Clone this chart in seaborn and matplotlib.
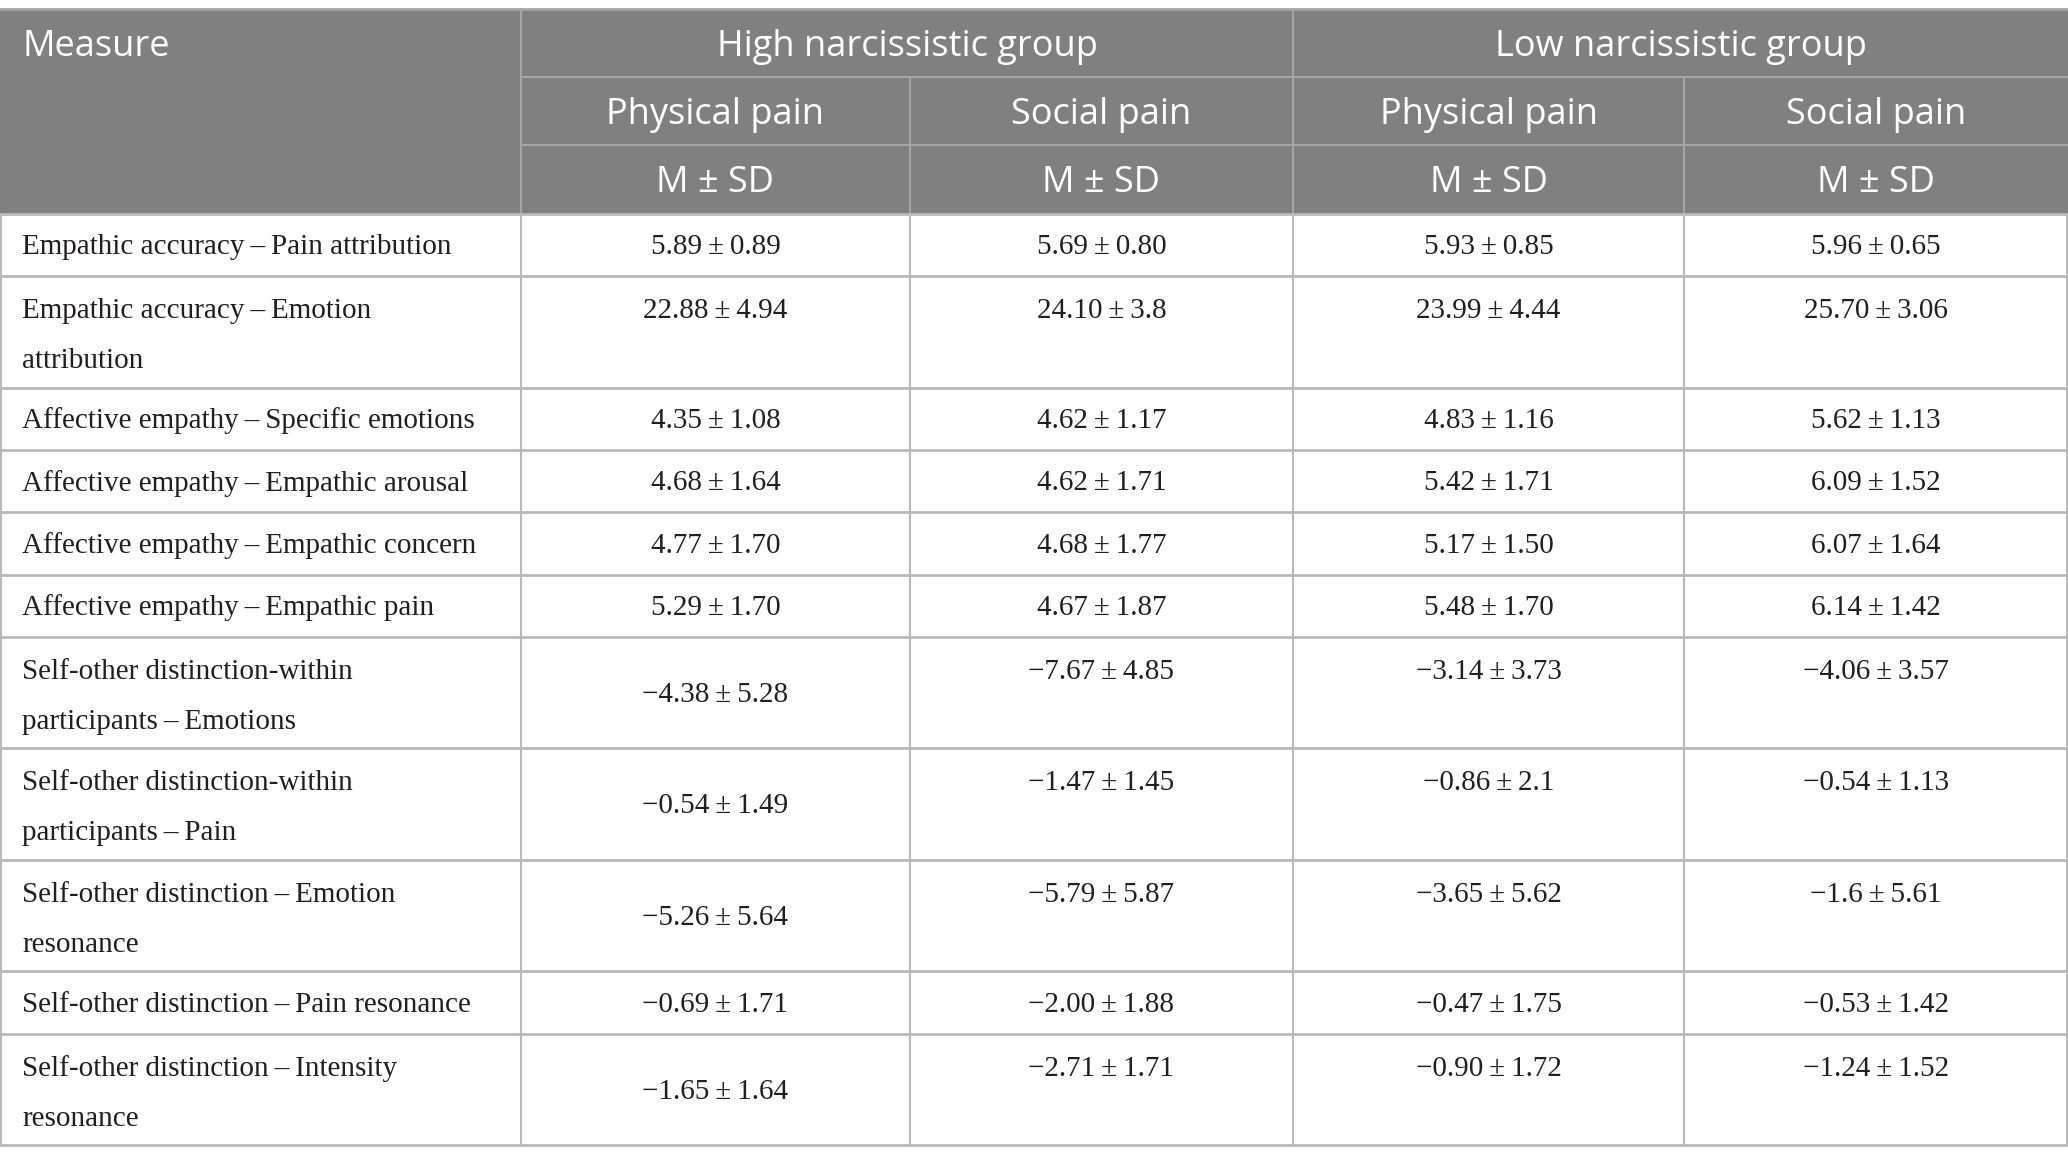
import matplotlib
matplotlib.use("Agg")
import matplotlib.pyplot as plt
import seaborn as sns

# Table content
measures = [
    "Empathic accuracy\u2009\u2013\u2009Pain attribution",
    "Empathic accuracy\u2009\u2013\u2009Emotion\nattribution",
    "Affective empathy\u2009\u2013\u2009Specific emotions",
    "Affective empathy\u2009\u2013\u2009Empathic arousal",
    "Affective empathy\u2009\u2013\u2009Empathic concern",
    "Affective empathy\u2009\u2013\u2009Empathic pain",
    "Self-other distinction-within\nparticipants\u2009\u2013\u2009Emotions",
    "Self-other distinction-within\nparticipants\u2009\u2013\u2009Pain",
    "Self-other distinction\u2009\u2013\u2009Emotion\nresonance",
    "Self-other distinction\u2009\u2013\u2009Pain resonance",
    "Self-other distinction\u2009\u2013\u2009Intensity\nresonance",
]
groups = ["High narcissistic group", "Low narcissistic group"]
conditions = ["Physical pain", "Social pain"]

hi_phys_m = ["5.89", "22.88", "4.35", "4.68", "4.77", "5.29", "\u22124.38", "\u22120.54", "\u22125.26", "\u22120.69", "\u22121.65"]
hi_phys_sd = ["0.89", "4.94", "1.08", "1.64", "1.70", "1.70", "5.28", "1.49", "5.64", "1.71", "1.64"]
hi_soc_m = ["5.69", "24.10", "4.62", "4.62", "4.68", "4.67", "\u22127.67", "\u22121.47", "\u22125.79", "\u22122.00", "\u22122.71"]
hi_soc_sd = ["0.80", "3.8", "1.17", "1.71", "1.77", "1.87", "4.85", "1.45", "5.87", "1.88", "1.71"]
lo_phys_m = ["5.93", "23.99", "4.83", "5.42", "5.17", "5.48", "\u22123.14", "\u22120.86", "\u22123.65", "\u22120.47", "\u22120.90"]
lo_phys_sd = ["0.85", "4.44", "1.16", "1.71", "1.50", "1.70", "3.73", "2.1", "5.62", "1.75", "1.72"]
lo_soc_m = ["5.96", "25.70", "5.62", "6.09", "6.07", "6.14", "\u22124.06", "\u22120.54", "\u22121.6", "\u22120.53", "\u22121.24"]
lo_soc_sd = ["0.65", "3.06", "1.13", "1.52", "1.64", "1.42", "3.57", "1.13", "5.61", "1.42", "1.52"]

columns = [(hi_phys_m, hi_phys_sd), (hi_soc_m, hi_soc_sd),
           (lo_phys_m, lo_phys_sd), (lo_soc_m, lo_soc_sd)]

sns.set_theme(style="white")
plt.rcParams['font.family'] = ['DejaVu Sans']

W, H = 2068, 1163
fig = plt.figure(figsize=(W / 100, H / 100), dpi=100)
ax = fig.add_axes([0, 0, 1, 1])
ax.set_xlim(0, W)
ax.set_ylim(H, 0)
ax.axis('off')

header_bg = '#808080'
header_line = '#a6a6a6'
body_line = '#b9b9b9'
text_col = '#231f20'
head_font = ['Open Sans', 'DejaVu Sans']
body_font = ['Liberation Serif', 'DejaVu Serif']

col_x = [0, 521, 910, 1293, 1684, W]
head_y = [9, 77, 145, 214]
single_h, double_h = 62.3, 111.5

# header block
ax.add_patch(plt.Rectangle((0, head_y[0]), W, head_y[3] - head_y[0],
                           facecolor=header_bg, edgecolor='none', zorder=0))
ax.plot([0, W], [head_y[0], head_y[0]], color=header_line, lw=2)
for y in head_y[1:3]:
    ax.plot([col_x[1], W], [y, y], color=header_line, lw=1.5)
for x in (col_x[1], col_x[3]):
    ax.plot([x, x], [head_y[0], head_y[3]], color=header_line, lw=1.5)
for x in (col_x[2], col_x[4]):
    ax.plot([x, x], [head_y[1], head_y[3]], color=header_line, lw=1.5)

hs = 26
hoff = 4
ax.text(22, (head_y[0] + head_y[1]) / 2 + hoff, "Measure", color='white', fontsize=hs,
        family=head_font, ha='left', va='center')
for g, name in enumerate(groups):
    xc = (col_x[1 + 2 * g] + col_x[3 + 2 * g]) / 2
    ax.text(xc, (head_y[0] + head_y[1]) / 2 + hoff, name, color='white', fontsize=hs,
            family=head_font, ha='center', va='center')
for c in range(4):
    xc = (col_x[c + 1] + col_x[c + 2]) / 2
    ax.text(xc, (head_y[1] + head_y[2]) / 2 + hoff, conditions[c % 2], color='white',
            fontsize=hs, family=head_font, ha='center', va='center')
    ax.text(xc, (head_y[2] + head_y[3]) / 2 + hoff, "M \u00b1 SD", color='white',
            fontsize=hs, family=head_font, ha='center', va='center')

# body rows
bs = 21
boff = 2
y = head_y[3]
ax.plot([0, W], [y, y], color=body_line, lw=2)
for i, label in enumerate(measures):
    two = '\n' in label
    h = double_h if two else single_h
    if two:
        first, second = label.split('\n')
        ax.text(22, y + 33 + boff, first, fontsize=bs, family=body_font, color=text_col,
                ha='left', va='center')
        ax.text(22, y + 83 + boff, second, fontsize=bs, family=body_font, color=text_col,
                ha='left', va='center')
    else:
        ax.text(22, y + h / 2 + boff, label, fontsize=bs, family=body_font, color=text_col,
                ha='left', va='center')
    for c, (means, sds) in enumerate(columns):
        xc = (col_x[c + 1] + col_x[c + 2]) / 2
        # first value column is centred in two-line rows except the accuracy row
        if two and c == 0 and i >= 6:
            yy = y + h / 2
        elif two:
            yy = y + 33
        else:
            yy = y + h / 2
        ax.text(xc, yy + boff, f"{means[i]}\u2009\u00b1\u2009{sds[i]}", fontsize=bs,
                family=body_font, color=text_col, ha='center', va='center')
    y += h
    ax.plot([0, W], [y, y], color=body_line, lw=2)

for x in col_x[1:5]:
    ax.plot([x, x], [head_y[3], y], color=body_line, lw=1.5)
ax.plot([1, 1], [head_y[3], y], color=body_line, lw=1.5)
ax.plot([W - 1, W - 1], [head_y[3], y], color=body_line, lw=1.5)

fig.savefig('out.png', dpi=100, facecolor='white')
